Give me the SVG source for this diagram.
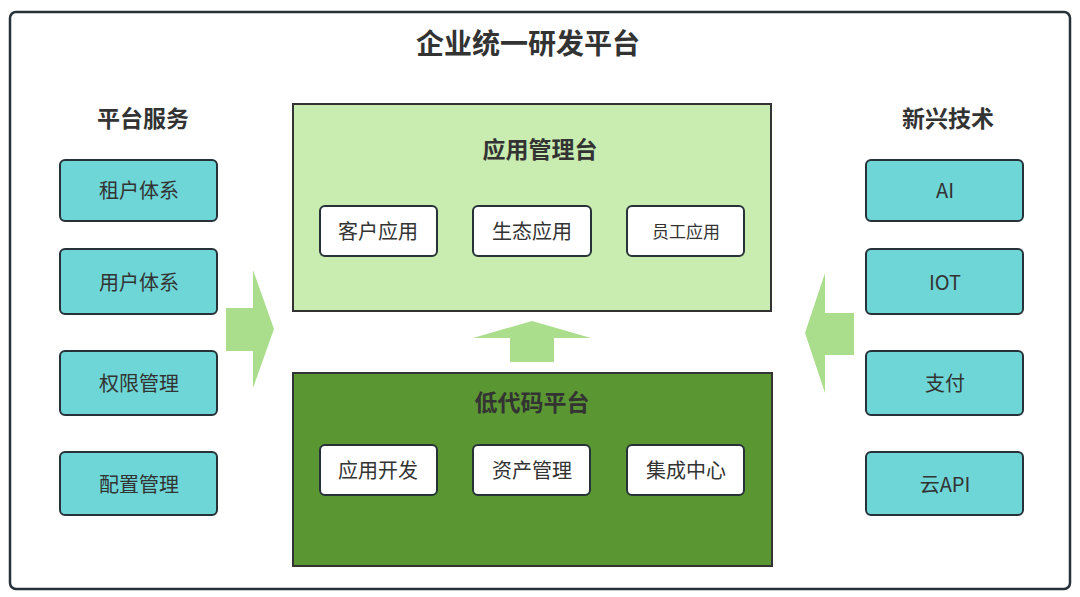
<svg xmlns="http://www.w3.org/2000/svg" width="1080" height="597" viewBox="0 0 1080 597">
<style>
text{font-family:"Noto Sans CJK SC","Noto Sans",sans-serif;fill:#333;text-anchor:middle;dominant-baseline:central}
.h{font-weight:bold;font-size:23px}
.t{font-size:20px}
.s{font-size:17px}
.cy{fill:#6ed6d6;stroke:#263238;stroke-width:2}
.wb{fill:#fff;stroke:#263238;stroke-width:2}
.arr{fill:#aade8c}
</style>
<rect width="1080" height="597" fill="#fff"/>
<rect x="10" y="12" width="1060" height="577" rx="6" fill="#fff" stroke="#263238" stroke-width="2.5"/>
<text x="528" y="42" style="font-weight:bold;font-size:28px">企业统一研发平台</text>
<text class="h" x="143" y="117">平台服务</text>
<text class="h" x="948" y="117">新兴技术</text>

<g id="connectors">
<polygon class="arr" points="226,308 253,308 253,270 274,329 253,388 253,351 226,351"/>
<polygon class="arr" points="854,313 825,313 825,273 805,333 825,393 825,355 854,355"/>
<polygon class="arr" points="510,362 510,338 473,338 532,321 591,338 554,338 554,362"/>
</g>

<g id="app-mgmt">
<rect x="293" y="104" width="478" height="207" fill="#c9ecb0" stroke="#333" stroke-width="2"/>
<text class="h" x="540" y="148">应用管理台</text>
</g>
<g id="customer-app"><rect class="wb" x="320" y="206" width="117" height="50" rx="5"/><text class="t" x="378" y="230">客户应用</text></g>
<g id="eco-app"><rect class="wb" x="473" y="206" width="118" height="50" rx="5"/><text class="t" x="532" y="230">生态应用</text></g>
<g id="staff-app"><rect class="wb" x="627" y="206" width="117" height="50" rx="5"/><text class="s" x="686" y="230">员工应用</text></g>

<g id="lowcode">
<rect x="293" y="373" width="479" height="193" fill="#5a9632" stroke="#333" stroke-width="2"/>
<text class="h" x="532" y="401">低代码平台</text>
</g>
<g id="app-dev"><rect class="wb" x="320" y="445" width="117" height="50" rx="5"/><text class="t" x="378" y="469">应用开发</text></g>
<g id="asset-mgmt"><rect class="wb" x="473" y="445" width="117" height="50" rx="5"/><text class="t" x="532" y="469">资产管理</text></g>
<g id="integration"><rect class="wb" x="627" y="445" width="117" height="50" rx="5"/><text class="t" x="686" y="469">集成中心</text></g>

<g id="tenant"><rect class="cy" x="60" y="160" width="157" height="61" rx="5"/><text class="t" x="139" y="189">租户体系</text></g>
<g id="user"><rect class="cy" x="60" y="249" width="157" height="65" rx="5"/><text class="t" x="139" y="281">用户体系</text></g>
<g id="perm"><rect class="cy" x="60" y="351" width="157" height="64" rx="5"/><text class="t" x="139" y="382">权限管理</text></g>
<g id="config"><rect class="cy" x="60" y="452" width="157" height="63" rx="5"/><text class="t" x="139" y="483">配置管理</text></g>

<g id="ai"><rect class="cy" x="866" y="160" width="157" height="61" rx="5"/><text class="t" x="945" y="189">AI</text></g>
<g id="iot"><rect class="cy" x="866" y="249" width="157" height="65" rx="5"/><text class="t" x="945" y="281">IOT</text></g>
<g id="pay"><rect class="cy" x="866" y="351" width="157" height="64" rx="5"/><text class="t" x="945" y="382">支付</text></g>
<g id="cloud-api"><rect class="cy" x="866" y="452" width="157" height="63" rx="5"/><text class="t" x="945" y="483">云API</text></g>
</svg>
